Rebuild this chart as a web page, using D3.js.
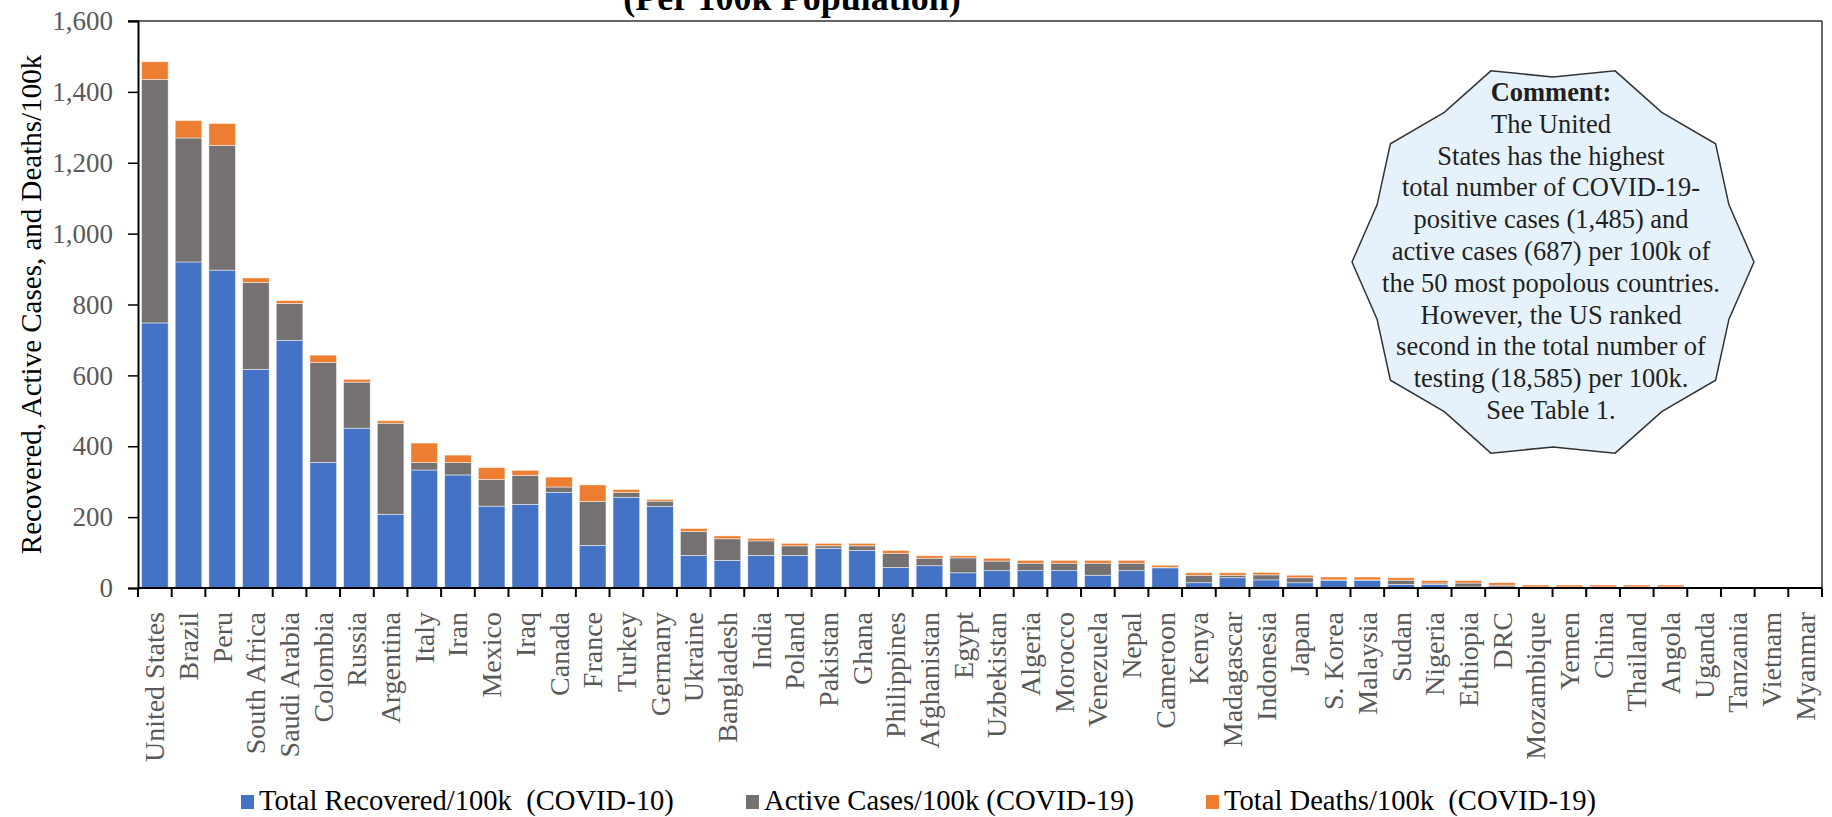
<!DOCTYPE html>
<html>
<head>
<meta charset="utf-8">
<script src="https://cdn.jsdelivr.net/npm/d3@7"></script>
<style>
  html, body { margin: 0; padding: 0; background: #fff; }
  svg { display: block; }
  text { font-family: "Liberation Serif", "Times New Roman", serif; }
</style>
</head>
<body>
<svg id="chart" width="1832" height="817"></svg>
<script>
// Countries, ordered by total cases per 100k population
const countries = ["United States","Brazil","Peru","South Africa","Saudi Arabia","Colombia","Russia","Argentina","Italy","Iran","Mexico","Iraq","Canada","France","Turkey","Germany","Ukraine","Bangladesh","India","Poland","Pakistan","Ghana","Philippines","Afghanistan","Egypt","Uzbekistan","Algeria","Morocco","Venezuela","Nepal","Cameroon","Kenya","Madagascar","Indonesia","Japan","S. Korea","Malaysia","Sudan","Nigeria","Ethiopia","DRC","Mozambique","Yemen","China","Thailand","Angola","Uganda","Tanzania","Vietnam","Myanmar"];

// Per 100k population
const recovered = [748,920,897,617,699,354,451,208,333,319,231,236,270,120,256,230,92,78,92,92,112,106,58,63,43,49,49,49,36,49,57,15,29,23,15,22,22,10,10,3,3,2,2,2,2,2,0.5,0.5,0.5,0.5];
const active    = [687,350,352,245,104,282,130,257,21,35,75,82,15,124,14,15,68,61,41,27,7,13,40,21,42,27,21,21,34,21,1,21,7,14,14,1,1,12,4,11,5,1,1,1,1,1,0.3,0.3,0.3,0.3];
const deaths    = [50,49,62,13,8,21,8,7,55,21,34,14,28,47,8,5,8,8,7,7,7,7,8,7,6,8,8,8,8,8,6,7,7,7,7,8,8,7,7,7,7,5.5,5.5,5.5,5.5,5.5,0.7,0.7,0.7,0.7];

const yTicks = [0,200,400,600,800,1000,1200,1400,1600];

const seriesNames = ["Total Recovered/100k  (COVID-10)", "Active Cases/100k (COVID-19)", "Total Deaths/100k  (COVID-19)"];
const seriesColors = ["#4472C4", "#767171", "#ED7D31"];

const commentLines = [
  "The United",
  "States has the highest",
  "total number of COVID-19-",
  "positive cases (1,485) and",
  "active cases (687) per 100k of",
  "the 50 most popolous countries.",
  "However, the US ranked",
  "second in the total number of",
  "testing (18,585) per 100k.",
  "See Table 1."
];

const svg = d3.select("#chart");
const plotLeft = 138, plotRight = 1822, plotTop = 21, plotBottom = 588;

const rows = countries.map((c, i) => ({ country: c, recovered: recovered[i], active: active[i], deaths: deaths[i] }));
const stack = d3.stack().keys(["recovered", "active", "deaths"])(rows);

const xCells = d3.scaleBand().domain(countries).range([plotLeft, plotRight]).padding(0);
const x = d3.scaleBand().domain(countries).range([plotLeft, plotRight]).paddingInner(0.21).paddingOuter(0.105);
const y = d3.scaleLinear().domain([0, 1600]).range([plotBottom, plotTop]);

// Title (upper part sits above the canvas)
svg.append("text")
  .attr("x", 792).attr("y", 10)
  .attr("text-anchor", "middle")
  .attr("font-weight", "bold")
  .attr("font-size", 36)
  .attr("fill", "#000")
  .text("(Per 100k Population)");

// Stacked bars
svg.append("g").selectAll("g")
  .data(stack)
  .join("g")
  .attr("fill", (d, i) => seriesColors[i])
  .selectAll("rect")
  .data(d => d)
  .join("rect")
  .attr("x", d => x(d.data.country))
  .attr("width", x.bandwidth())
  .attr("y", d => y(d[1]))
  .attr("height", d => Math.max(0, y(d[0]) - y(d[1])))
  .attr("stroke", "#fff")
  .attr("stroke-opacity", 0.6)
  .attr("stroke-width", 0.8);

// Frame: top and right edges
svg.append("line").attr("x1", plotLeft - 10).attr("x2", plotRight).attr("y1", plotTop).attr("y2", plotTop)
  .attr("stroke", "#666").attr("stroke-width", 2);
svg.append("line").attr("x1", plotRight).attr("x2", plotRight).attr("y1", plotTop).attr("y2", plotBottom)
  .attr("stroke", "#666").attr("stroke-width", 2);

// Y axis
const yAxis = svg.append("g")
  .attr("transform", `translate(${plotLeft},0)`)
  .call(d3.axisLeft(y).tickValues(yTicks).tickSize(10).tickPadding(15).tickFormat(d3.format(",")));
yAxis.select(".domain").attr("stroke", "#000").attr("stroke-width", 2);
yAxis.selectAll(".tick line").attr("stroke", "#000").attr("stroke-width", 1.5);
yAxis.selectAll(".tick text")
  .attr("font-family", "Liberation Serif, Times New Roman, serif")
  .attr("font-size", 27).attr("fill", "#595959");

// X axis with ticks at category boundaries
const xg = svg.append("g").attr("transform", `translate(0,${plotBottom})`);
xg.append("line").attr("x1", plotLeft).attr("x2", plotRight).attr("stroke", "#000").attr("stroke-width", 2);
const bounds = countries.map(c => xCells(c)).concat([plotRight]);
xg.selectAll("line.tk").data(bounds).join("line").attr("class", "tk")
  .attr("x1", d => d).attr("x2", d => d).attr("y1", 0).attr("y2", 9)
  .attr("stroke", "#000").attr("stroke-width", 2);
xg.selectAll("text").data(countries).join("text")
  .attr("transform", d => `translate(${xCells(d) + xCells.bandwidth() / 2},${24}) rotate(-90)`)
  .attr("text-anchor", "end")
  .attr("dy", "0.34em")
  .attr("font-size", 28)
  .attr("fill", "#595959")
  .text(d => d);

// Y axis title
svg.append("text")
  .attr("transform", `translate(41,${(plotTop + plotBottom) / 2}) rotate(-90)`)
  .attr("text-anchor", "middle")
  .attr("font-size", 29)
  .attr("fill", "#000")
  .text("Recovered, Active Cases, and Deaths/100k");

// Legend
const legendX = [241, 746, 1206];
const lg = svg.append("g").selectAll("g").data(seriesNames).join("g")
  .attr("transform", (d, i) => `translate(${legendX[i]},0)`);
lg.append("rect").attr("x", 0).attr("y", 795).attr("width", 13).attr("height", 14)
  .attr("fill", (d, i) => seriesColors[i]);
lg.append("text").attr("x", 18).attr("y", 810)
  .attr("font-size", 28.6).attr("fill", "#000")
  .style("white-space", "pre")
  .text(d => d);

// Comment callout: ten-point burst
const cx = 1553, cy = 262, rOuter = 201, rInner = 185;
const burst = d3.range(20).map(k => {
  const a = k * Math.PI / 10;
  const r = k % 2 === 0 ? rOuter : rInner;
  return [cx + r * Math.cos(a), cy - r * Math.sin(a)];
});
svg.append("path")
  .attr("d", d3.line()(burst) + "Z")
  .attr("fill", "#E5F2FB")
  .attr("stroke", "#333")
  .attr("stroke-width", 1.5)
  .attr("stroke-linejoin", "miter");

const noteX = 1551, noteY0 = 101, lineH = 31.8;
svg.append("text").attr("x", noteX).attr("y", noteY0)
  .attr("text-anchor", "middle").attr("font-size", 26.5).attr("font-weight", "bold")
  .attr("fill", "#231F20").text("Comment:");
svg.append("g").selectAll("text").data(commentLines).join("text")
  .attr("x", noteX).attr("y", (d, i) => noteY0 + lineH * (i + 1))
  .attr("text-anchor", "middle").attr("font-size", 26.5)
  .attr("fill", "#231F20").text(d => d);
</script>
</body>
</html>
